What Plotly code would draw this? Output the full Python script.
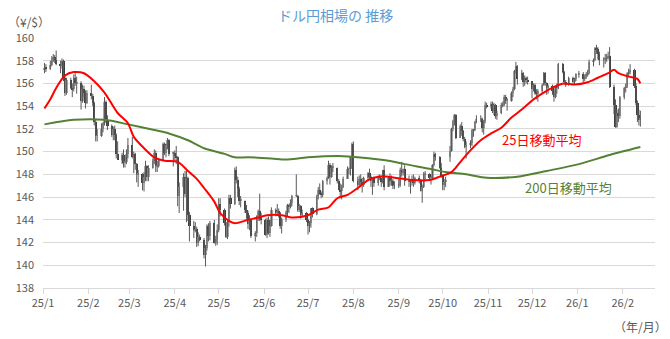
import pandas as pd
import plotly.graph_objects as go

# Trading days (weekdays, market holidays removed)
dates = pd.bdate_range("2025-01-02", "2026-02-13")
dates = dates[~dates.isin(pd.to_datetime(["2025-12-25", "2026-01-01"]))]

# Daily USD/JPY OHLC, one line per month
open_ = [
    157.2,157.4,157.3,157.6,158.0,158.3,158.1,157.7,157.5,158.0,156.5,155.2,156.3,155.6,155.5,156.5,156.0,156.0,154.5,155.5,155.2,154.3,
    155.2,154.9,154.3,152.6,151.4,151.4,152.0,152.5,154.4,152.8,152.3,151.5,152.0,151.5,149.8,149.3,149.7,149.0,149.1,149.8,
    150.6,149.5,149.8,148.9,148.0,148.0,147.2,147.8,148.7,147.8,148.6,149.2,149.9,148.7,148.7,149.3,150.7,149.9,150.6,151.0,149.8,
    149.9,149.6,149.5,146.1,146.9,147.8,146.3,147.7,144.4,143.5,143.1,143.2,142.0,142.5,142.2,140.9,141.5,143.5,142.6,143.7,142.0,142.3,
    143.1,145.4,144.9,143.7,142.5,143.8,145.9,145.4,148.4,147.5,146.7,145.7,145.7,144.9,144.6,143.6,144.0,142.6,142.8,144.3,144.8,144.1,
    144.0,142.7,144.0,142.8,143.5,144.9,144.6,144.8,144.6,143.5,144.1,144.7,145.3,145.1,145.5,146.1,146.1,144.9,145.2,144.4,144.6,
    144.0,143.5,143.7,145.0,144.5,146.1,146.6,146.3,146.2,147.4,147.7,148.8,147.8,148.6,148.6,147.4,146.6,146.5,146.9,147.6,148.5,148.5,149.5,
    150.7,147.4,147.1,147.6,147.3,147.1,147.7,148.1,147.8,147.4,147.7,147.2,147.8,147.7,147.3,148.4,146.9,147.7,147.4,147.4,147.0,
    147.0,147.1,148.4,148.1,148.5,147.4,147.5,147.4,147.4,147.2,147.7,147.4,146.5,146.9,148.0,148.0,147.7,147.7,148.8,149.8,149.5,148.6,
    147.9,147.1,147.3,149.5,150.1,152.0,152.7,153.2,151.2,152.3,151.8,151.1,150.4,150.6,150.8,151.9,151.9,152.6,152.9,152.9,152.1,152.7,154.1,
    154.0,154.2,153.6,154.1,153.1,153.4,154.1,154.1,154.8,154.5,154.5,155.2,155.5,157.1,157.5,156.4,156.9,156.1,156.5,156.3,
    156.2,155.5,155.9,155.2,155.1,155.3,155.9,156.9,156.0,155.6,155.8,155.3,154.8,155.7,155.6,157.7,157.0,156.1,155.9,156.5,156.1,156.4,
    156.8,156.8,156.4,156.6,156.8,156.9,157.9,158.1,159.1,159.0,158.6,158.1,158.1,158.2,158.3,158.4,155.7,154.1,152.2,153.4,153.1,
    154.8,155.6,155.8,156.9,157.0,157.2,155.8,154.3,153.2,152.8,
]
high = [
    157.8,157.7,158.0,158.4,158.6,158.5,158.9,158.0,158.2,158.1,156.7,156.5,156.5,156.0,156.8,156.9,156.6,156.2,155.9,155.8,155.4,155.4,
    155.9,155.1,154.4,152.9,152.0,152.5,152.6,154.8,154.5,153.2,152.4,152.2,152.3,151.6,150.9,149.9,150.2,149.6,150.2,151.2,
    151.3,150.0,149.9,149.0,148.4,148.1,148.2,149.2,148.8,148.8,149.4,150.2,150.1,149.2,149.4,150.8,150.8,150.7,151.2,151.1,150.0,
    150.1,150.5,149.6,147.3,148.1,148.3,148.3,147.8,144.7,143.9,143.8,143.4,142.9,142.7,142.4,141.8,143.6,143.7,143.9,144.0,142.6,143.6,
    145.9,145.9,145.0,143.8,144.0,146.2,146.2,148.6,148.7,147.8,146.9,146.1,145.7,145.3,144.8,144.4,144.1,143.0,144.4,144.9,146.3,144.6,
    144.1,144.2,144.3,144.0,145.1,145.0,145.4,145.0,144.7,144.2,144.8,145.4,145.4,145.8,146.2,148.0,146.2,145.4,145.3,144.9,144.7,
    144.1,143.9,145.0,145.1,146.2,146.9,147.2,146.5,147.5,147.8,149.2,149.0,148.8,149.0,148.6,147.6,147.2,147.1,147.8,148.7,148.6,149.6,150.8,
    150.9,147.8,147.9,148.0,147.7,147.8,148.2,148.5,147.9,147.7,147.8,147.9,148.0,147.7,148.4,148.8,147.8,148.1,147.9,147.6,147.4,
    147.6,148.6,149.1,148.5,148.8,147.9,147.6,147.9,148.0,147.8,147.9,147.6,147.1,148.2,148.3,148.1,147.9,148.9,150.0,149.9,149.6,149.0,
    148.0,147.6,147.8,150.5,152.1,152.8,153.3,153.3,152.4,152.6,151.9,151.3,150.9,151.0,152.0,152.0,152.7,153.2,153.2,153.0,152.8,154.4,154.3,
    154.4,154.4,154.3,154.2,153.6,154.3,154.4,155.0,155.0,154.7,155.3,155.7,157.2,157.9,157.6,157.2,157.0,156.7,156.6,156.6,
    156.2,156.0,156.0,155.5,155.5,156.0,157.0,157.0,156.1,155.9,155.9,155.4,155.8,156.0,157.8,157.8,157.1,156.3,156.6,156.6,156.5,156.9,
    157.1,157.0,156.8,157.0,157.2,158.1,158.2,159.2,159.4,159.2,158.8,158.3,158.6,158.6,158.8,159.2,155.9,154.6,153.7,153.8,154.9,
    155.7,156.0,157.0,157.3,157.7,157.3,156.0,154.5,153.7,153.6,
]
low = [
    156.9,157.0,157.2,157.5,157.9,157.8,157.6,156.9,157.3,156.2,154.9,155.0,155.5,154.8,155.3,155.8,155.1,153.7,154.3,154.8,153.8,154.2,
    154.6,154.0,152.3,150.9,150.9,151.3,151.7,152.3,152.6,151.9,151.3,151.0,151.0,149.4,149.3,148.9,148.6,148.6,148.9,149.4,
    149.4,148.1,148.4,147.3,146.9,146.6,146.5,147.4,147.4,147.4,148.5,148.9,148.2,148.2,148.6,149.2,149.7,149.5,150.2,149.6,148.7,
    149.2,148.9,145.2,144.6,144.8,146.0,143.8,143.9,142.1,142.4,142.9,141.6,141.7,142.1,140.6,139.9,141.3,142.1,142.2,141.9,141.7,141.8,
    142.9,144.3,143.5,142.4,142.3,143.4,145.0,145.3,147.2,146.0,145.3,145.1,144.6,144.1,143.2,143.1,142.4,142.1,142.5,143.9,143.9,143.6,
    142.6,142.4,142.7,142.5,143.4,144.3,144.5,144.2,143.2,142.8,143.8,144.3,144.6,145.0,145.2,146.0,144.7,144.7,144.1,144.3,143.8,
    142.7,142.9,143.3,144.2,144.4,145.8,146.2,145.9,146.0,147.1,147.6,147.1,147.7,148.2,147.2,146.6,145.9,145.8,146.8,147.6,148.0,147.9,148.5,
    147.3,146.6,146.9,147.0,146.4,146.9,147.4,147.6,146.9,146.2,146.9,147.0,147.5,146.9,147.2,146.6,146.9,147.0,147.0,146.7,146.7,
    146.8,146.9,147.8,147.9,147.0,146.9,146.3,147.0,146.9,147.1,147.2,146.5,145.5,146.8,147.4,147.6,147.1,147.6,148.7,149.2,148.5,147.7,
    146.6,146.6,146.9,149.1,150.0,151.8,152.3,151.1,151.2,151.4,150.9,150.3,149.4,150.3,150.5,151.3,151.8,152.5,152.6,151.7,151.5,152.5,153.8,
    153.8,153.4,153.2,152.9,152.8,153.3,153.9,154.0,154.2,153.6,154.4,154.8,155.4,156.9,155.9,156.3,155.7,155.8,156.0,155.9,
    154.7,155.3,155.0,154.6,154.4,155.1,155.8,155.8,155.0,155.1,155.0,154.4,154.7,155.1,155.5,156.9,155.9,155.7,155.8,155.9,155.9,156.2,
    156.5,156.1,156.2,156.4,156.6,156.8,157.5,158.0,158.6,158.1,157.6,157.4,157.7,157.9,158.1,155.6,153.3,152.1,152.1,152.6,152.9,
    154.6,155.2,155.6,156.6,156.8,155.6,154.1,152.6,152.3,152.2,
]
close = [
    157.4,157.3,157.6,158.0,158.3,158.1,157.7,157.5,158.0,156.5,155.2,156.3,155.6,155.5,156.5,156.0,156.0,154.5,155.5,155.2,154.3,155.2,
    154.9,154.3,152.6,151.4,151.4,152.0,152.5,154.4,152.8,152.3,151.5,152.0,151.5,149.8,149.3,149.7,149.0,149.1,149.8,150.6,
    149.5,149.8,148.9,148.0,148.0,147.2,147.8,148.7,147.8,148.6,149.2,149.9,148.7,148.7,149.3,150.7,149.9,150.6,151.0,149.8,149.9,
    149.6,149.5,146.1,146.9,147.8,146.3,147.7,144.4,143.5,143.1,143.2,142.0,142.5,142.2,140.9,141.5,143.5,142.6,143.7,142.0,142.3,143.1,
    145.4,144.9,143.7,142.5,143.8,145.9,145.4,148.4,147.5,146.7,145.7,145.7,144.9,144.6,143.6,144.0,142.6,142.8,144.3,144.8,144.1,144.0,
    142.7,144.0,142.8,143.5,144.9,144.6,144.8,144.6,143.5,144.1,144.7,145.3,145.1,145.5,146.1,146.1,144.9,145.2,144.4,144.6,144.0,
    143.5,143.7,145.0,144.5,146.1,146.6,146.3,146.2,147.4,147.7,148.8,147.8,148.6,148.6,147.4,146.6,146.5,146.9,147.6,148.5,148.5,149.5,150.7,
    147.4,147.1,147.6,147.3,147.1,147.7,148.1,147.8,147.4,147.7,147.2,147.8,147.7,147.3,148.4,146.9,147.7,147.4,147.4,147.0,147.0,
    147.1,148.4,148.1,148.5,147.4,147.5,147.4,147.4,147.2,147.7,147.4,146.5,146.9,148.0,148.0,147.7,147.7,148.8,149.8,149.5,148.6,147.9,
    147.1,147.3,147.5,150.1,152.0,152.7,153.2,151.2,152.3,151.8,151.1,150.4,150.6,150.8,151.9,151.9,152.6,152.9,152.9,152.1,152.7,154.1,154.0,
    154.2,153.6,154.1,153.1,153.4,154.1,154.1,154.8,154.5,154.5,155.2,155.5,157.1,157.5,156.4,156.9,156.1,156.5,156.3,156.2,
    155.5,155.9,155.2,155.1,155.3,155.9,156.9,156.0,155.6,155.8,155.3,154.8,155.7,155.6,157.7,157.0,156.1,155.9,156.5,156.1,156.4,156.8,
    156.8,156.4,156.6,156.8,156.9,157.9,158.1,159.1,159.0,158.6,158.1,158.1,158.2,158.3,158.4,155.7,154.1,152.2,153.4,153.1,154.8,
    155.6,155.8,156.9,157.0,157.2,155.8,154.3,153.2,152.8,153.0,
]

# 25-day moving average
ma25_dates = [
    "2025-01-02","2025-01-06","2025-01-10","2025-01-16","2025-01-22","2025-01-29","2025-02-05","2025-02-12",
    "2025-02-21","2025-02-28","2025-03-04","2025-03-11","2025-03-18","2025-03-25","2025-04-03","2025-04-10",
    "2025-04-16","2025-04-21","2025-04-28","2025-05-02","2025-05-08","2025-05-12","2025-05-21","2025-05-28",
    "2025-06-03","2025-06-13","2025-06-20","2025-07-01","2025-07-08","2025-07-15","2025-07-21","2025-07-28",
    "2025-08-04","2025-08-11","2025-08-18","2025-08-25","2025-08-29","2025-09-05","2025-09-10","2025-09-22",
    "2025-09-29","2025-10-07","2025-10-10","2025-10-17","2025-10-27","2025-11-03","2025-11-10","2025-11-17",
    "2025-11-24","2025-12-02","2025-12-09","2025-12-16","2025-12-23","2025-12-30","2026-01-08","2026-01-15",
    "2026-01-22","2026-01-26","2026-01-29","2026-02-05","2026-02-11","2026-02-13",
]
ma25 = [
    153.8,154.6,155.6,156.7,157.0,156.9,156.2,155.2,
    153.4,152.5,151.3,150.3,149.5,149.2,149.1,148.3,
    147.6,146.8,145.6,144.6,143.9,143.7,144.0,144.2,
    144.4,144.4,144.2,144.4,144.9,145.1,145.9,146.2,
    146.8,147.5,147.8,147.8,147.7,147.6,147.5,147.5,
    147.8,148.2,148.6,149.7,151.0,151.6,152.1,153.0,
    153.7,154.6,155.2,155.7,156.0,155.9,156.1,156.5,
    156.9,157.2,156.9,156.6,156.4,156.0,
]

# 200-day moving average
ma200_dates = [
    "2025-01-02","2025-01-22","2025-02-12","2025-02-28","2025-03-18","2025-03-28","2025-04-10","2025-04-21",
    "2025-05-05","2025-05-12","2025-05-21","2025-06-06","2025-06-16","2025-07-01","2025-07-25","2025-08-04",
    "2025-08-25","2025-09-05","2025-09-22","2025-10-03","2025-10-17","2025-10-31","2025-11-21","2025-12-11",
    "2026-01-02","2026-01-23","2026-02-13",
]
ma200 = [
    152.4,152.8,152.8,152.4,151.9,151.6,151.0,150.3,
    149.8,149.5,149.5,149.4,149.3,149.5,149.6,149.5,
    149.2,148.9,148.5,148.2,148.0,147.7,147.8,148.3,
    148.9,149.7,150.4,
]

tick_dates = pd.date_range("2025-01-01", "2026-02-01", freq="MS")
tick_text = [f"{d.year % 100}/{d.month}" for d in tick_dates]

FONT = "Noto Sans CJK JP"
GREY = "#595959"
UP_FILL, DOWN_FILL, WICK = "#a6a6a6", "#3f3f3f", "#595959"

# Candles: wicks as one broken line, bodies as floating bars
wick_x, wick_y = [], []
for d, lo, hi in zip(dates, low, high):
    wick_x += [d, d, None]
    wick_y += [lo, hi, None]

body_base = [min(o, c) for o, c in zip(open_, close)]
body_len = [max(abs(c - o), 0.06) for o, c in zip(open_, close)]
body_col = [UP_FILL if c >= o else DOWN_FILL for o, c in zip(open_, close)]
DAY_MS = 86400000

fig = go.Figure()
fig.add_trace(go.Scatter(
    x=wick_x, y=wick_y, mode="lines", showlegend=False, hoverinfo="skip",
    line=dict(color=WICK, width=1),
))
fig.add_trace(go.Bar(
    x=dates, y=body_len, base=body_base, width=DAY_MS * 1.5,
    marker=dict(color=body_col, line=dict(width=0)),
    showlegend=False, hoverinfo="skip",
))
fig.add_trace(go.Scatter(
    x=ma200_dates, y=ma200, mode="lines", showlegend=False,
    line=dict(color="#548235", width=2, shape="spline", smoothing=0.8),
))
fig.add_trace(go.Scatter(
    x=ma25_dates, y=ma25, mode="lines", showlegend=False,
    line=dict(color="#ff0000", width=2, shape="spline", smoothing=0.8),
))

L, R, T, B = 43, 15, 38, 51
PW, PH = 670 - L - R, 339 - T - B

def px(x):
    return (x - L) / PW

def py(y):
    return (339 - B - y) / PH

annos = [
    dict(text="ドル円相場の 推移", x=px(335), y=py(15), font=dict(size=14, color="#5b9bd5")),
    dict(text="（¥/$）", x=px(29), y=py(22), font=dict(size=12, color=GREY)),
    dict(text="（年/月）", x=px(640), y=py(326), font=dict(size=12, color=GREY)),
    dict(text="25日移動平均", x=px(541), y=py(139), font=dict(size=13, color="#ff0000")),
    dict(text="200日移動平均", x=px(568), y=py(187), font=dict(size=13, color="#548235")),
]
for a in annos:
    fig.add_annotation(xref="paper", yref="paper", showarrow=False,
                       xanchor="center", yanchor="middle", **a)

fig.update_layout(
    width=670, height=339,
    margin=dict(l=L, r=R, t=T, b=B),
    paper_bgcolor="white", plot_bgcolor="white",
    barmode="overlay", bargap=0,
    font=dict(family=FONT, color=GREY, size=11),
    xaxis=dict(
        type="date", range=["2025-01-01", "2026-02-23"],
        tickvals=tick_dates, ticktext=tick_text,
        showgrid=False, showline=True, linecolor="#d9d9d9", linewidth=1,
        ticks="outside", ticklen=5, tickcolor="#d9d9d9",
        tickfont=dict(size=11, color=GREY),
    ),
    yaxis=dict(
        range=[138, 160], dtick=2, tick0=138,
        showgrid=True, gridcolor="#d9d9d9", gridwidth=1,
        zeroline=False, showline=False, ticks="",
        ticklabelstandoff=8,
        tickfont=dict(size=11, color=GREY),
    ),
)

fig.write_html("out.html")
